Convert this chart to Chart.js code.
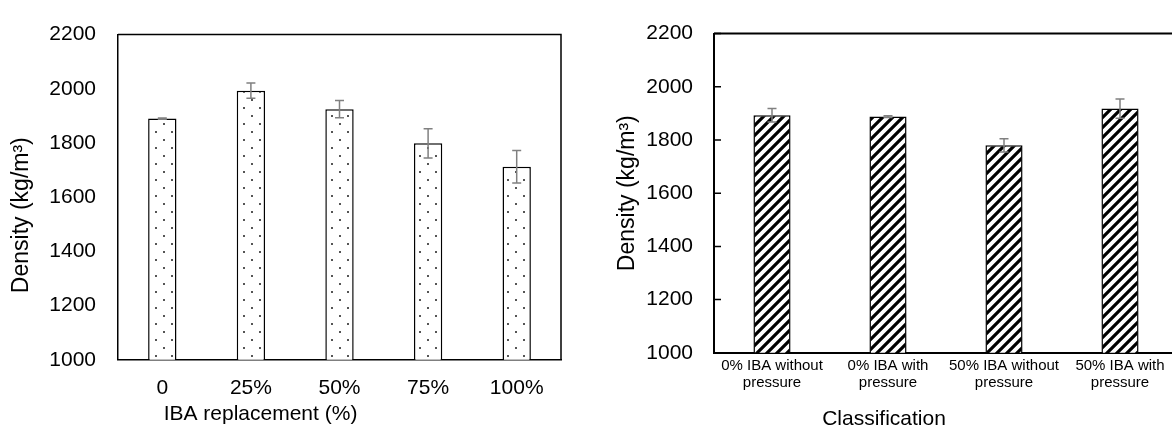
<!DOCTYPE html>
<html>
<head>
<meta charset="utf-8">
<script src="https://cdn.jsdelivr.net/npm/chart.js@4.4.0/dist/chart.umd.min.js"></script>
<style>
    html, body { margin: 0; padding: 0; background: #fff; overflow: hidden; width: 1172px; height: 432px; }
    #wrapA { position: absolute; left: -40px; top: 0; width: 630px; height: 432px; }
    #wrapB { position: absolute; left: 590px; top: 0; width: 664px; height: 432px; }
</style>
</head>
<body>
<div id="wrapA"><canvas id="replChart"></canvas></div>
<div id="wrapB"><canvas id="classChart"></canvas></div>
<script>
// data
var replLabels = ['0', '25%', '50%', '75%', '100%'];
var replDensity = [1890, 1993, 1925, 1799, 1712];
var replError = [2, 28, 32, 54, 60];

var classLabels = [['0% IBA without', 'pressure'], ['0% IBA with', 'pressure'], ['50% IBA without', 'pressure'], ['50% IBA with', 'pressure']];
var classDensity = [1893, 1888, 1780, 1918];
var classError = [25, 3, 25, 36];

var yTicks = [1000, 1200, 1400, 1600, 1800, 2000, 2200];
var yTitle = 'Density (kg/m³)';

var FONT = "'Liberation Sans', Arial, sans-serif";

// fill patterns
function dotPattern() {
    var c = document.createElement('canvas');
    c.width = 16; c.height = 16;
    var g = c.getContext('2d');
    g.fillStyle = '#fff';
    g.fillRect(0, 0, 16, 16);
    g.fillStyle = '#555';
    g.fillRect(3, 3, 2, 2);
    g.fillRect(11, 11, 2, 2);
    return g.createPattern(c, 'repeat');
}

function hatchPattern() {
    var c = document.createElement('canvas');
    c.width = 10; c.height = 10;
    var g = c.getContext('2d');
    g.fillStyle = '#fff';
    g.fillRect(0, 0, 10, 10);
    g.strokeStyle = '#000';
    g.lineWidth = 3.2;
    g.beginPath();
    g.moveTo(-2, 12); g.lineTo(12, -2);
    g.moveTo(-2, 2); g.lineTo(2, -2);
    g.moveTo(8, 12); g.lineTo(12, 8);
    g.stroke();
    return g.createPattern(c, 'repeat');
}

// error bars + frame + inner ticks + y title
var extras = {
    id: 'extras',
    afterDatasetsDraw: function(chart, args, opts) {
        var ctx = chart.ctx;
        var area = chart.chartArea;
        var yScale = chart.scales.y;
        var vals = chart.data.datasets[0].data;
        var meta = chart.getDatasetMeta(0);
        ctx.save();
        // frame
        ctx.strokeStyle = '#000';
        ctx.lineWidth = opts.frameWidth;
        ctx.beginPath();
        ctx.moveTo(area.left, area.top);
        ctx.lineTo(area.right, area.top);
        ctx.lineTo(area.right, area.bottom);
        ctx.stroke();
        // inner tick marks
        if (opts.innerTicks) {
            ctx.lineWidth = 1.5;
            ctx.beginPath();
            yTicks.forEach(function(v) {
                var py = yScale.getPixelForValue(v);
                ctx.moveTo(area.left, py);
                ctx.lineTo(area.left + 7, py);
            });
            ctx.stroke();
        }
        // error bars
        ctx.strokeStyle = '#808080';
        ctx.lineWidth = 1.5;
        meta.data.forEach(function(bar, i) {
            var x = bar.x;
            var top = yScale.getPixelForValue(vals[i] + opts.errors[i]);
            var bot = yScale.getPixelForValue(vals[i] - opts.errors[i]);
            ctx.beginPath();
            ctx.moveTo(x, top); ctx.lineTo(x, bot);
            ctx.moveTo(x - opts.cap, top); ctx.lineTo(x + opts.cap, top);
            ctx.moveTo(x - opts.cap, bot); ctx.lineTo(x + opts.cap, bot);
            ctx.stroke();
        });
        // y axis title
        ctx.translate(opts.titleX, (area.top + area.bottom) / 2 + opts.titleShift);
        ctx.rotate(-Math.PI / 2);
        ctx.fillStyle = '#000';
        ctx.font = '23px ' + FONT;
        ctx.textAlign = 'center';
        ctx.textBaseline = 'middle';
        ctx.fillText(yTitle, 0, 0);
        ctx.restore();
    }
};

function buildOptions(cfg) {
    return {
        responsive: true,
        maintainAspectRatio: false,
        animation: false,
        layout: { padding: { top: cfg.top, right: cfg.right, left: 0, bottom: 0 } },
        scales: {
            x: {
                grid: { display: false, drawTicks: false },
                border: { display: true, color: '#000', width: cfg.frameWidth },
                ticks: {
                    color: '#000',
                    padding: cfg.xPad,
                    maxRotation: 0,
                    autoSkip: false,
                    font: { family: FONT, size: cfg.xFont, lineHeight: 1.15 }
                },
                afterFit: function(scale) { scale.height = cfg.xHeight; }
            },
            y: {
                min: 1000,
                max: 2200,
                grid: { display: false, drawTicks: false },
                border: { display: true, color: '#000', width: cfg.frameWidth },
                afterBuildTicks: function(scale) {
                    scale.ticks = yTicks.map(function(v) { return { value: v }; });
                },
                ticks: {
                    color: '#000',
                    padding: cfg.yPad,
                    font: { family: FONT, size: 21 },
                    callback: function(value) { return String(value); }
                },
                afterFit: function(scale) { scale.width = cfg.yWidth; }
            }
        },
        plugins: {
            legend: { display: false },
            tooltip: { enabled: false },
            title: {
                display: true,
                position: 'bottom',
                text: cfg.xTitle,
                color: '#000',
                font: { family: FONT, size: 21, weight: 'normal' },
                padding: { top: 0, bottom: cfg.titleBottom }
            },
            extras: {
                errors: cfg.errors,
                cap: 4.5,
                frameWidth: cfg.frameWidth,
                innerTicks: cfg.innerTicks,
                titleX: cfg.yTitleX,
                titleShift: cfg.yTitleShift
            }
        }
    };
}

new Chart(document.getElementById('replChart').getContext('2d'), {
    type: 'bar',
    data: {
        labels: replLabels,
        datasets: [{
            data: replDensity,
            backgroundColor: dotPattern(),
            borderColor: '#000',
            borderWidth: 1.5,
            borderSkipped: false,
            categoryPercentage: 1,
            barPercentage: 0.32
        }]
    },
    options: buildOptions({
        top: 22, right: 29, yWidth: 158, yPad: 22, yTitleX: 62, yTitleShift: 18,
        xHeight: 42, xPad: 16, xFont: 21, xTitle: 'IBA replacement (%)',
        titleBottom: 5, frameWidth: 1.5, errors: replError, innerTicks: false
    }),
    plugins: [extras]
});

new Chart(document.getElementById('classChart').getContext('2d'), {
    type: 'bar',
    data: {
        labels: classLabels,
        datasets: [{
            data: classDensity,
            backgroundColor: hatchPattern(),
            borderColor: '#000',
            borderWidth: 1.5,
            borderSkipped: false,
            categoryPercentage: 1,
            barPercentage: 0.32
        }]
    },
    options: buildOptions({
        top: 19.5, right: 76, yWidth: 124, yPad: 21, yTitleX: 38, yTitleShift: 0,
        xHeight: 54, xPad: 4, xFont: 15, xTitle: 'Classification',
        titleBottom: 0, frameWidth: 2, errors: classError, innerTicks: true
    }),
    plugins: [extras]
});
</script>
</body>
</html>
